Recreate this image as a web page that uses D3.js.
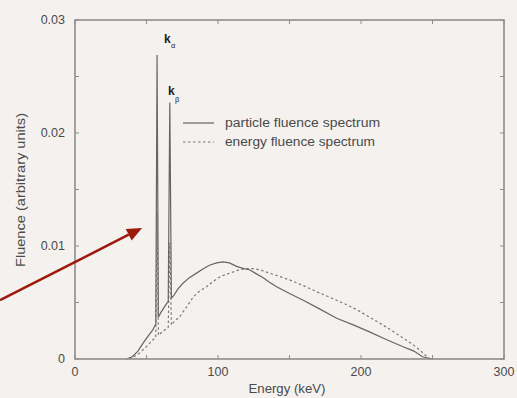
<!DOCTYPE html>
<html>
<head>
<meta charset="utf-8">
<script src="https://cdnjs.cloudflare.com/ajax/libs/d3/7.8.5/d3.min.js"></script>
<style>
  html, body { margin: 0; padding: 0; background: #f4f1ee; }
  svg { display: block; font-family: "Liberation Sans", Arial, sans-serif; }
  .tickText { fill: #4a4a4a; font-size: 12.5px; }
  .aText { fill: #4a4a4a; font-size: 12.5px; }
</style>
</head>
<body>
<div id="chart"></div>
<script>
// Chart size
var width = 517;
var height = 398;

// plot box in pixels
var plotLeft = 75;
var plotRight = 504;
var plotTop = 20;
var plotBottom = 359;

// particle fluence spectrum (solid)
var partEnergy = [36, 40, 44, 47.6, 51, 54.5, 56.5, 57.4, 58.3, 60, 63, 65.2, 66.3, 67.4, 69, 72, 75.5, 80, 85, 90, 94, 99, 103.7, 108, 113, 118, 122, 126, 131.6, 136, 141, 150, 159.6, 170, 183, 195, 206, 218, 229, 237, 243, 250];
var partFluence = [0, 0.0002, 0.0007, 0.0014, 0.002, 0.0026, 0.0031, 0.0269, 0.0037, 0.0041, 0.0047, 0.0051, 0.0227, 0.0054, 0.0056, 0.0062, 0.0067, 0.0072, 0.0076, 0.008, 0.0083, 0.0085, 0.0086, 0.0085, 0.0082, 0.008, 0.0079, 0.0076, 0.0072, 0.0068, 0.0064, 0.0058, 0.0052, 0.0045, 0.0036, 0.003, 0.0024, 0.0017, 0.0011, 0.0007, 0.0002, 0];

// energy fluence spectrum (dashed)
var enerEnergy = [38, 44, 50, 54.5, 56.5, 57.4, 58.3, 61, 64, 65.2, 66.3, 67.4, 70, 73, 78, 82.7, 87, 92, 97, 101.6, 106, 110.6, 115, 120, 125, 129, 136, 141, 150, 159.6, 170, 183, 190, 198, 206, 218, 229, 236, 241, 248];
var enerFluence = [0, 0.0004, 0.0011, 0.0017, 0.0019, 0.013, 0.0021, 0.0024, 0.0027, 0.0028, 0.0103, 0.003, 0.0034, 0.0037, 0.0046, 0.0055, 0.006, 0.0064, 0.0069, 0.0073, 0.0075, 0.0077, 0.0079, 0.008, 0.008, 0.0079, 0.0076, 0.0074, 0.007, 0.0065, 0.0059, 0.0052, 0.0048, 0.0043, 0.0037, 0.0028, 0.0019, 0.0013, 0.0008, 0];

// tick values
var xMajor = [0, 100, 200, 300];
var xMinor = [50, 150, 250];
var yMajor = [0, 0.01, 0.02, 0.03];
var yMinor = [0.005, 0.015, 0.025];

// legend names
var legendNames = ["particle fluence spectrum", "energy fluence spectrum"];

// red arrow annotation (data coords: tail, tip)
var arrowEnergy = [-52.4, 46.9];
var arrowFluence = [0.0052, 0.0116];

var svg = d3
  .select("#chart")
  .append("svg")
  .attr("width", width)
  .attr("height", height);

svg.append("rect")
  .attr("width", width)
  .attr("height", height)
  .attr("fill", "#f4f1ee");

// scales
var xScale = d3.scaleLinear().domain([0, 300]).range([plotLeft, plotRight]);
var yScale = d3.scaleLinear().domain([0, 0.03]).range([plotBottom, plotTop]);

var frameColor = "#8e8e8e";

// ticks inward on all sides
function drawXTicks(g, vals, len) {
  vals.forEach(function(v) {
    var x = xScale(v);
    g.append("line").attr("x1", x).attr("x2", x).attr("y1", plotBottom).attr("y2", plotBottom - len);
    g.append("line").attr("x1", x).attr("x2", x).attr("y1", plotTop).attr("y2", plotTop + len);
  });
}
function drawYTicks(g, vals, len) {
  vals.forEach(function(v) {
    var y = yScale(v);
    g.append("line").attr("x1", plotLeft).attr("x2", plotLeft + len).attr("y1", y).attr("y2", y);
    g.append("line").attr("x1", plotRight).attr("x2", plotRight - len).attr("y1", y).attr("y2", y);
  });
}

var tickG = svg.append("g").attr("stroke", frameColor).attr("stroke-width", 1);
drawXTicks(tickG, xMajor.concat(xMinor), 4);
drawYTicks(tickG, yMajor.concat(yMinor), 4);

// x tick labels
svg.append("g")
  .selectAll("text")
  .data(xMajor)
  .enter()
  .append("text")
  .attr("class", "tickText")
  .attr("x", function(d) { return xScale(d); })
  .attr("y", plotBottom + 17)
  .attr("text-anchor", "middle")
  .text(function(d) { return d; });

// y tick labels
svg.append("g")
  .selectAll("text")
  .data(yMajor)
  .enter()
  .append("text")
  .attr("class", "tickText")
  .attr("x", plotLeft - 10)
  .attr("y", function(d) { return yScale(d) + 4; })
  .attr("text-anchor", "end")
  .text(function(d) { return d === 0 ? "0" : d3.format(".2f")(d); });

// lines
var partData = partEnergy.map(function(e, i) { return [e, partFluence[i]]; });
var enerData = enerEnergy.map(function(e, i) { return [e, enerFluence[i]]; });

var line = d3.line()
  .x(function(d) { return xScale(d[0]); })
  .y(function(d) { return yScale(d[1]); });

svg.append("path")
  .datum(enerData)
  .attr("d", line)
  .attr("fill", "none")
  .attr("stroke", "#7a7a7a")
  .attr("stroke-width", 1.2)
  .attr("stroke-dasharray", "2.5,2.5");

svg.append("path")
  .datum(partData)
  .attr("d", line)
  .attr("fill", "none")
  .attr("stroke", "#666")
  .attr("stroke-width", 1.2);

// frame on top
svg.append("rect")
  .attr("x", plotLeft)
  .attr("y", plotTop)
  .attr("width", plotRight - plotLeft)
  .attr("height", plotBottom - plotTop)
  .attr("fill", "none")
  .attr("stroke", frameColor)
  .attr("stroke-width", 1.6);

// peak labels k alpha and k beta
var kLabels = svg.append("g").attr("fill", "#222");
kLabels.append("text").attr("x", 164).attr("y", 43)
  .attr("font-size", 12).attr("font-weight", "bold").text("k");
kLabels.append("text").attr("x", 171).attr("y", 48)
  .attr("font-size", 7.5).text("\u03b1");
kLabels.append("text").attr("x", 168).attr("y", 95)
  .attr("font-size", 12).attr("font-weight", "bold").text("k");
kLabels.append("text").attr("x", 175).attr("y", 102)
  .attr("font-size", 7.5).text("\u03b2");

// legend
var legend = svg.append("g");
legend.append("line")
  .attr("x1", 183).attr("x2", 214).attr("y1", 123).attr("y2", 123)
  .attr("stroke", "#666").attr("stroke-width", 1.2);
legend.append("line")
  .attr("x1", 183).attr("x2", 214).attr("y1", 142).attr("y2", 142)
  .attr("stroke", "#7a7a7a").attr("stroke-width", 1.2).attr("stroke-dasharray", "2.5,2.5");
legend.selectAll("text")
  .data(legendNames)
  .enter()
  .append("text")
  .attr("class", "aText")
  .attr("x", 225)
  .attr("y", function(d, i) { return 127 + i * 19; })
  .attr("textLength", function(d, i) { return i === 0 ? 155 : 150; })
  .attr("lengthAdjust", "spacingAndGlyphs")
  .text(function(d) { return d; });

// axis titles
svg.append("text")
  .attr("class", "aText")
  .attr("x", 287)
  .attr("y", 393)
  .attr("text-anchor", "middle")
  .attr("textLength", 77)
  .attr("lengthAdjust", "spacingAndGlyphs")
  .text("Energy (keV)");

svg.append("text")
  .attr("class", "aText")
  .attr("transform", "translate(25," + 190 + ")rotate(-90)")
  .attr("text-anchor", "middle")
  .attr("textLength", 154)
  .attr("lengthAdjust", "spacingAndGlyphs")
  .text("Fluence (arbitrary units)");

// red arrow
var ax0 = xScale(arrowEnergy[0]), ay0 = yScale(arrowFluence[0]);
var ax1 = xScale(arrowEnergy[1]), ay1 = yScale(arrowFluence[1]);
var ang = Math.atan2(ay1 - ay0, ax1 - ax0);
var headLen = 15, headW = 6.5;
var bx = ax1 - headLen * Math.cos(ang), by = ay1 - headLen * Math.sin(ang);

svg.append("line")
  .attr("x1", ax0).attr("y1", ay0)
  .attr("x2", bx).attr("y2", by)
  .attr("stroke", "#9b1a0b")
  .attr("stroke-width", 2.5);

svg.append("path")
  .attr("d", "M" + ax1 + "," + ay1 +
    "L" + (bx + headW * Math.sin(ang)) + "," + (by - headW * Math.cos(ang)) +
    "L" + (bx - headW * Math.sin(ang)) + "," + (by + headW * Math.cos(ang)) + "Z")
  .attr("fill", "#9b1a0b");
</script>
</body>
</html>
